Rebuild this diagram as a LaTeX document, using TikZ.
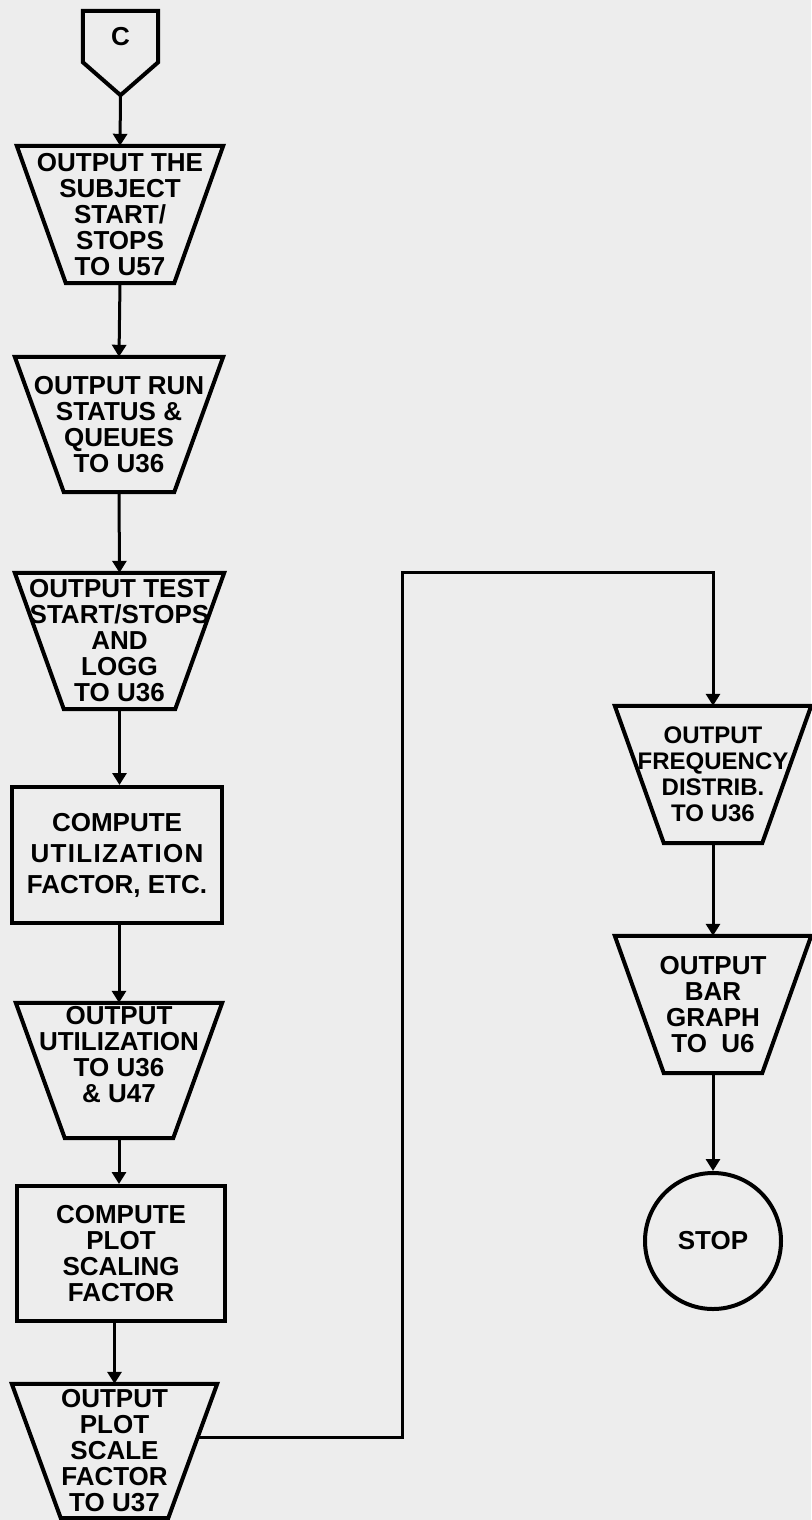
\documentclass[tikz,border=0pt]{standalone}
\usepackage{fontspec}
\setmainfont{Liberation Sans}
\usetikzlibrary{arrows.meta,calc}

\begin{document}
\begin{tikzpicture}[x=1pt,y=-1pt,line join=miter,
  font=\bfseries\fontsize{26}{26}\selectfont,
  box/.style={inner sep=0pt,align=center},
  edge/.style={line width=4pt},
  arr/.style={line width=3pt,-{Triangle[length=12pt,width=14pt]}}]
  \fill[black!7] (0,0) rectangle (811,1520);
  \useasboundingbox (0,0) rectangle (811,1520);

  % 左列
  \node[box,minimum width=75pt,minimum height=51pt] (c) at (120.5,36.5) {C};
  \coordinate (ctip) at ([yshift=-33pt]c.south);
  \node[box,minimum width=206pt,minimum height=137pt] (t1) at (120,214.5)
    {OUTPUT THE\\SUBJECT\\START/\\STOPS\\TO U57};
  \node[box,minimum width=208pt,minimum height=135pt] (t2) at (119,424.5)
    {OUTPUT RUN\\STATUS \&\\QUEUES\\TO U36};
  \node[box,minimum width=209pt,minimum height=136pt] (t3) at (119.5,641)
    {OUTPUT TEST\\START/STOPS\\AND\\LOGG\\TO U36};
  \node[box,draw,edge,minimum width=210pt,minimum height=136pt,font=\bfseries\fontsize{26}{31}\selectfont] (r1) at (117,855)
    {COMPUTE\\{\addfontfeature{LetterSpace=5}UTILIZATION}\\FACTOR, ETC.};
  \node[box,minimum width=206pt,minimum height=135pt] (t4) at (119,1070.5)
    {OUTPUT\\UTILIZATION\\TO U36\\\& U47\\[6pt]};
  \node[box,draw,edge,minimum width=208pt,minimum height=135pt] (r2) at (121,1253.5)
    {COMPUTE\\PLOT\\SCALING\\FACTOR};
  \node[box,minimum width=205pt,minimum height=134pt] (t5) at (114.5,1451)
    {OUTPUT\\PLOT\\SCALE\\FACTOR\\TO U37};

  % 右列
  \node[box,minimum width=196pt,minimum height=137pt,font=\bfseries\fontsize{24}{26}\selectfont] (t6) at (713,774.5)
    {OUTPUT\\FREQUENCY\\DISTRIB.\\TO U36};
  \node[box,minimum width=196pt,minimum height=137pt] (t7) at (713,1004.5)
    {OUTPUT\\BAR\\GRAPH\\TO\ \ U6};
  \node[box,draw,edge,circle,minimum size=136pt] (stop) at (713,1241) {STOP};

  % 边框
  \draw[edge] (c.north west) -- (c.north east) -- (c.south east) -- (ctip)
    -- (c.south west) -- cycle;
  \foreach \n in {t1,t2,t3,t4,t5,t6,t7}
    \draw[edge] (\n.north west) -- (\n.north east) -- ([xshift=-49pt]\n.south east)
      -- ([xshift=49pt]\n.south west) -- cycle;

  % 连线
  \coordinate (t5out) at ($(t5.north east)!0.4!([xshift=-49pt]t5.south east)$);
  \coordinate (j1) at (402,572);
  \draw[arr] (ctip) -- (t1.north);
  \draw[arr] (t1.south) -- (t2.north);
  \draw[arr] (t2.south) -- (t3.north);
  \draw[arr] (t3.south) -- (t3.south |- r1.north);
  \draw[arr] (t4.north |- r1.south) -- (t4.north);
  \draw[arr] (t4.south) -- (t4.south |- r2.north);
  \draw[arr] (t5.north |- r2.south) -- (t5.north);
  \draw[arr] (t5out) -| (j1) -| (t6.north);
  \draw[arr] (t6.south) -- (t7.north);
  \draw[arr] (t7.south) -- (stop.north);
\end{tikzpicture}
\end{document}
